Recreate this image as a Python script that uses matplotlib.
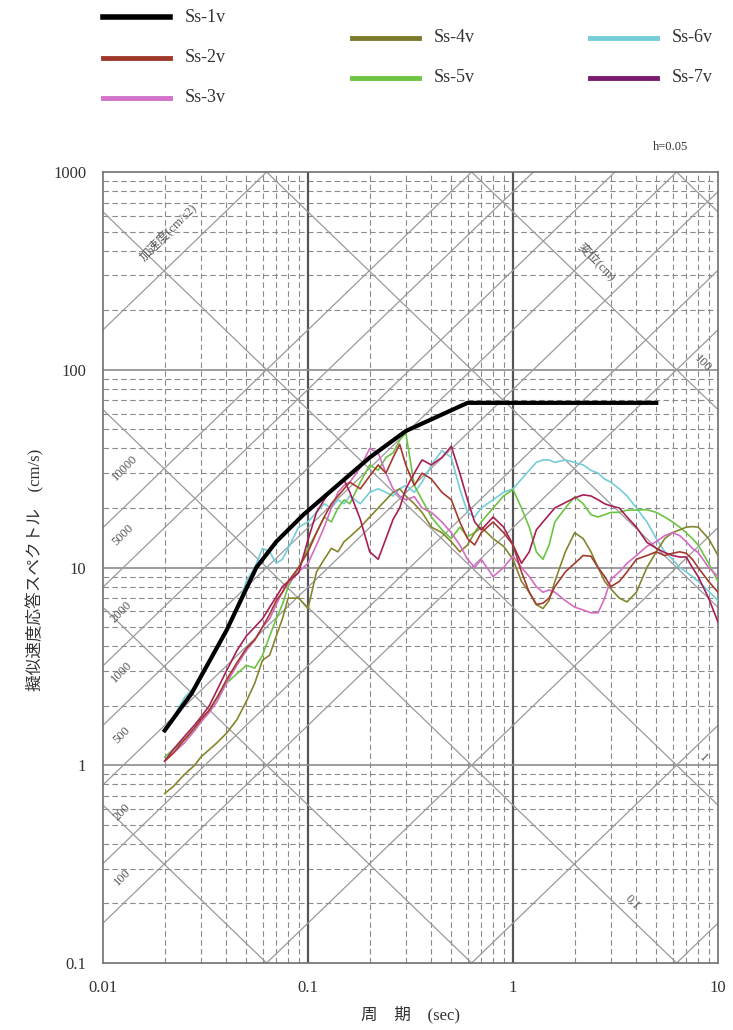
import numpy as np
import matplotlib
matplotlib.use('Agg')
import matplotlib.pyplot as plt
from matplotlib.lines import Line2D

plt.rcParams['font.family'] = ['Liberation Serif', 'Noto Sans CJK JP', 'DejaVu Sans']

# period grid shared by the observed spectra (sec)
period = [0.02, 0.022, 0.025, 0.028, 0.03, 0.033, 0.036, 0.04, 0.045, 0.05,
          0.055, 0.06, 0.065, 0.07, 0.075, 0.08, 0.09, 0.1, 0.11, 0.12,
          0.13, 0.14, 0.15, 0.16, 0.18, 0.2, 0.22, 0.24, 0.26, 0.28,
          0.3, 0.33, 0.36, 0.4, 0.45, 0.5, 0.55, 0.6, 0.65, 0.7,
          0.8, 0.9, 1.0, 1.1, 1.2, 1.3, 1.4, 1.5, 1.6, 1.8,
          2.0, 2.2, 2.4, 2.6, 2.8, 3.0, 3.3, 3.6, 4.0, 4.5,
          5.0, 5.5, 6.0, 6.5, 7.0, 7.5, 8.0, 9.0, 10.0]

# design spectrum Ss-1v
t_ss1 = [0.02, 0.027, 0.04, 0.056, 0.07, 0.095, 0.2, 0.3, 0.6, 5.0]
v_ss1 = [1.5, 2.3, 4.8, 10, 13.5, 18.5, 36, 49, 68, 68]

v_ss2 = [1.05, 1.15, 1.35, 1.55, 1.7, 1.9, 2.2, 2.7, 3.3, 3.9,
         4.3, 5.0, 5.8, 6.8, 7.5, 8.5, 10, 12, 15, 18,
         21, 23, 25, 27, 25, 29, 33, 30, 36, 42,
         33, 26, 30, 28, 24, 22, 17, 14, 13, 15,
         17, 15, 13, 9.5, 7.5, 6.5, 6.6, 7.0, 8.0, 9.5,
         10.5, 11.5, 11.4, 10, 9.0, 8.0, 8.5, 9.5, 11, 11.5,
         12, 11.5, 11.8, 12, 11.8, 11, 10, 8.5, 7.5]
v_ss3 = [1.05, 1.15, 1.3, 1.5, 1.65, 1.85, 2.1, 2.6, 3.2, 3.8,
         4.3, 5.0, 5.5, 6.5, 7.5, 8.3, 9.5, 10.5, 13, 16,
         20, 24, 26, 27, 32, 40, 38, 30, 25, 23,
         22, 22.8, 20, 19, 17, 15, 13, 11, 10, 11,
         9.0, 10, 11.4, 10, 9.0, 8.0, 7.5, 7.7, 7.5, 6.8,
         6.3, 6.1, 5.9, 5.9, 7.0, 8.7, 9.5, 10.5, 11.5, 12.8,
         13.5, 14.5, 15, 14.5, 13.5, 12.5, 11.9, 10, 9.0]
v_ss4 = [0.72, 0.78, 0.9, 1.0, 1.1, 1.2, 1.3, 1.45, 1.7, 2.1,
         2.6, 3.4, 3.6, 4.5, 5.5, 7.0, 7.0, 6.2, 9.5, 11,
         12.5, 12, 13.5, 14.3, 16, 18, 20, 22, 24, 25,
         23, 21, 19, 16, 15, 13.5, 12, 13, 15, 16,
         14, 12.8, 11, 8.5, 7.5, 6.5, 6.2, 6.8, 8.5, 12,
         15, 14, 12, 10, 8.5, 7.8, 7.0, 6.7, 7.5, 10,
         12, 14, 15, 15.5, 16, 16.1, 16, 14, 11.5]
v_ss5 = [1.1, 1.2, 1.35, 1.5, 1.7, 1.9, 2.2, 2.6, 2.9, 3.2,
         3.1, 3.6, 4.5, 5.5, 6.5, 8.0, 10, 12.5, 15, 18,
         17, 20, 22, 21, 27, 33, 31, 36, 38, 44,
         48, 26, 22, 18, 15.5, 14, 16, 14.3, 15, 17,
         20, 23, 24.8, 20, 16, 12, 11, 13, 17, 20,
         22.8, 21, 18.5, 18, 18.5, 19, 19, 19.5, 19.5, 19.6,
         19, 18, 17, 16, 15, 14, 13, 10.5, 8.5]
v_ss6 = [1.5, 1.75, 2.2, 2.5, 2.9, 3.4, 3.9, 4.8, 6.2, 8.5,
         10, 12.5, 12, 10.5, 11, 12.5, 16, 17, 19, 21,
         20, 22, 21, 23, 21, 24, 25, 24, 23, 25,
         26, 24, 27, 33, 39, 36, 25, 19, 18, 20,
         22, 24, 25, 28, 31, 34, 35, 35, 34, 35,
         34, 33, 31, 30, 28, 27, 25, 23, 20, 17,
         14, 12, 11, 10, 9.5, 9.0, 8.5, 7.6, 6.8]
v_ss7 = [1.05, 1.2, 1.4, 1.6, 1.75, 2.0, 2.4, 3.0, 3.8, 4.5,
         5.0, 5.5, 6.3, 7.1, 8.0, 8.5, 9.4, 13.8, 19, 22,
         24.8, 26, 27.7, 24, 17.5, 12, 11, 14, 17.5, 20,
         25, 30, 35, 33, 36, 41, 30, 22, 17, 15.5,
         18, 16, 13, 10.5, 12, 15.5, 17, 18.5, 20, 21.3,
         22.5, 23.3, 23, 22, 21, 20.5, 20, 18, 16, 13.4,
         12.5, 11.9, 11.5, 11.3, 11.3, 10, 9.0, 7.0, 5.3]

names = ['Ss-1v', 'Ss-2v', 'Ss-3v', 'Ss-4v', 'Ss-5v', 'Ss-6v', 'Ss-7v']
colors = ['#000000', '#a0382c', '#d272c8', '#7b7a2a', '#6cc444', '#74cdd8', '#7a1a6e']
curve_colors = ['#000000', '#a33a2e', '#d46cc4', '#85852e', '#6cc444', '#74cdd8', '#a81e55']

accel_lines = [0.01, 0.1, 1, 10, 100, 200, 500, 1000, 2000, 5000, 10000,
               100000, 1000000]
disp_lines = [0.0001, 0.001, 0.01, 0.1, 1, 10, 100, 1000]

W, H = 733, 1030
fig = plt.figure(figsize=(W / 100, H / 100), dpi=100)
L, R, T, B = 103, 718, 172, 963
ax = fig.add_axes([L / W, 1 - B / H, (R - L) / W, (B - T) / H])
ax.set_xscale('log')
ax.set_yscale('log')
ax.set_xlim(0.01, 10)
ax.set_ylim(0.1, 1000)


def axfrac(x, y):
    return (x - L) / (R - L), (B - y) / (B - T)


# minor dashed grid
for dec in [0.01, 0.1, 1]:
    for k in range(2, 10):
        ax.axvline(dec * k, color='#8a8a8a', lw=0.8, ls=(0, (5, 3)), zorder=1)
for dec in [0.1, 1, 10, 100]:
    for k in range(2, 10):
        ax.axhline(dec * k, color='#8a8a8a', lw=0.8, ls=(0, (5, 3)), zorder=1)
for v in [0.1, 1]:
    ax.axvline(v, color='#555555', lw=1.6, zorder=1)
for v in [1, 10, 100]:
    ax.axhline(v, color='#8c8c8c', lw=1.2, zorder=1)

# tripartite diagonal lines
tt = np.array([0.01, 10])
for a in accel_lines:
    ax.plot(tt, a * tt / (2 * np.pi), color='#9a9a9a', lw=0.9, zorder=1)
for d in disp_lines:
    ax.plot(tt, 2 * np.pi * d / tt, color='#9a9a9a', lw=0.9, zorder=1)

# spectra
all_v = [v_ss2, v_ss3, v_ss4, v_ss5, v_ss6, v_ss7]
order = [4, 3, 2, 1, 5, 0]
for i in order:
    ax.plot(period, all_v[i], color=curve_colors[i + 1], lw=1.2, zorder=3)
ax.plot(t_ss1, v_ss1, color='black', lw=3, zorder=4)

for s in ax.spines.values():
    s.set_color('#707070')
    s.set_linewidth(1.2)

ax.set_xticks([0.01, 0.1, 1, 10])
ax.set_xticklabels(['0.01', '0.1', '1', '10'])
ax.set_yticks([0.1, 1, 10, 100, 1000])
ax.set_yticklabels(['0.1', '1', '10', '100', '1000'])
ax.minorticks_off()
ax.tick_params(length=0, labelsize=12, colors='#333333')
ax.tick_params(axis='x', pad=12)
ax.tick_params(axis='y', pad=12)

# diagonal labels
lab = dict(color='#555555', fontsize=9, ha='center', va='center', transform=ax.transAxes)
ax.text(*axfrac(168, 232), '加速度(cm/s2)', rotation=45, **lab)
for txt, x, y in [('10000', 125, 468), ('5000', 123, 535), ('2000', 121, 612),
                  ('1000', 122, 672), ('500', 122, 735), ('200', 122, 812),
                  ('100', 122, 877)]:
    ax.text(*axfrac(x, y), txt, rotation=45, **lab)
ax.text(*axfrac(597, 262), '変位(cm)', rotation=-45, **lab)
for txt, x, y in [('100', 703, 364), ('1', 703, 758), ('0.1', 632, 902)]:
    ax.text(*axfrac(x, y), txt, rotation=-45, **lab)

fig.text(670 / W, 1 - 147 / H, 'h=0.05', fontsize=9, ha='center', va='center', color='#333333')
fig.text(35 / W, 1 - 570 / H, '擬似速度応答スペクトル　(cm/s)', rotation=90, fontsize=12,
         ha='center', va='center', color='#333333')
fig.text(410 / W, 1 - 1015 / H, '周　期　(sec)', fontsize=12, ha='center', va='center',
         color='#333333')

# legend
leg_pos = [(103, 17), (103, 58), (103, 98), (352, 38), (352, 78), (590, 38), (590, 78)]
for i, (x, y) in enumerate(leg_pos):
    lw = 4 if i == 0 else 3.5
    fig.add_artist(Line2D([x / W, (x + 67) / W], [1 - y / H, 1 - y / H],
                          color=colors[i], lw=lw))
    fig.text((x + 82) / W, 1 - y / H, names[i], fontsize=13, va='center', ha='left',
             color='#333333')

fig.savefig('out.png', dpi=100)
